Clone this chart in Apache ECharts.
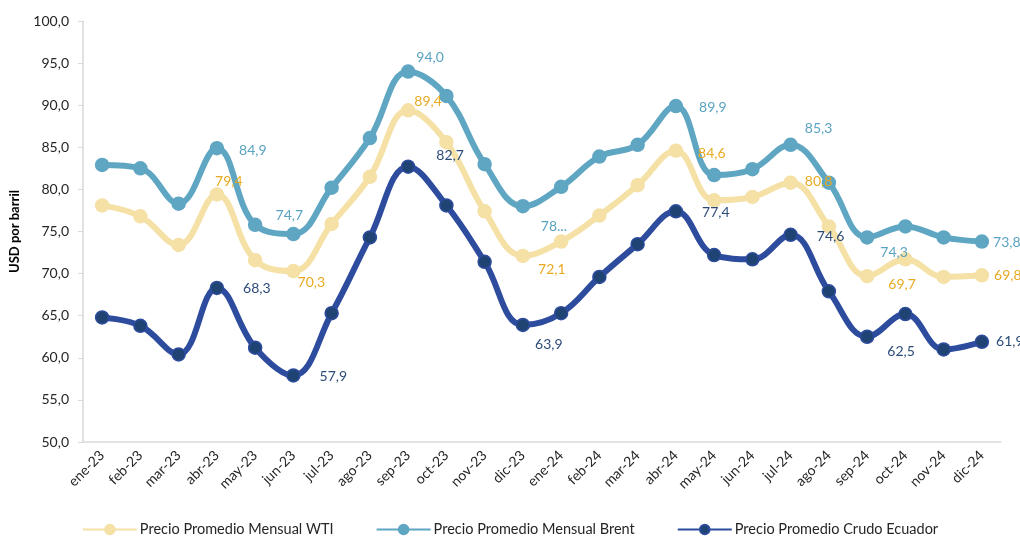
<!DOCTYPE html>
<html>
<head>
<meta charset="utf-8">
<script src="https://cdn.jsdelivr.net/npm/echarts@6/dist/echarts.min.js"></script>
<style>html,body{margin:0;padding:0;background:#fff;}#c{width:1020px;height:543px;}</style>
</head>
<body>
<div id="c"></div>
<script>
const categories = ['ene-23','feb-23','mar-23','abr-23','may-23','jun-23','jul-23','ago-23','sep-23','oct-23','nov-23','dic-23',
  'ene-24','feb-24','mar-24','abr-24','may-24','jun-24','jul-24','ago-24','sep-24','oct-24','nov-24','dic-24'];
const wti = [78.1, 76.8, 73.4, 79.4, 71.6, 70.3, 75.9, 81.5, 89.4, 85.6, 77.4, 72.1, 73.8, 76.9, 80.5, 84.6, 78.7, 79.1, 80.8, 75.6, 69.7, 71.7, 69.6, 69.8];
const brent = [82.9, 82.5, 78.3, 84.9, 75.8, 74.7, 80.2, 86.1, 94.0, 91.1, 83.0, 78.0, 80.3, 83.9, 85.3, 89.9, 81.7, 82.4, 85.3, 80.8, 74.3, 75.6, 74.3, 73.8];
const ecuador = [64.8, 63.8, 60.4, 68.3, 61.2, 57.9, 65.3, 74.3, 82.7, 78.1, 71.4, 63.9, 65.3, 69.6, 73.5, 77.4, 72.2, 71.7, 74.6, 67.9, 62.5, 65.2, 61.0, 61.9];
const seriesNames = ['Precio Promedio Mensual WTI', 'Precio Promedio Mensual Brent', 'Precio Promedio Crudo Ecuador'];
const yAxisName = 'USD por barril';

// label placements: index -> [dx, dy] (and optional custom text)
const wtiLabels = {3:[12,-13],5:[18,11],8:[20,-9],11:[29,14],15:[36,3],18:[28,-1],20:[35,8],23:[26,0]};
const brentLabels = {3:[36,2],5:[-4,-19],8:[22,-14],11:[31,20,'78...'],15:[37,1],18:[28,-16],20:[27,15],23:[25,1]};
const ecuLabels = {3:[40,1],5:[40,1],8:[42,-11],11:[26,20],15:[40,1],18:[40,2],20:[34,15],23:[28,0]};

const FONT = 'Lato, "Open Sans", sans-serif';
const fmt = v => v.toFixed(1).replace('.', ',');

function buildData(values, labels, color) {
  return values.map((v, i) => {
    const l = labels[i];
    if (!l) return v;
    return {
      value: v,
      label: {
        show: true, position: 'inside', offset: [l[0], l[1]],
        color: color, fontSize: 14, fontFamily: FONT,
        formatter: l[2] ? l[2] : fmt(v)
      }
    };
  });
}

const chart = echarts.init(document.getElementById('c'));
const mk = (name, values, labels, lineColor, markerColor, labelColor) => ({
  name: name, type: 'line', smooth: 0.4,
  data: buildData(values, labels, labelColor),
  symbol: 'circle', symbolSize: 13,
  lineStyle: { color: lineColor, width: 6 },
  itemStyle: { color: markerColor, borderColor: lineColor, borderWidth: 1.5 },
  label: { show: false },
  emphasis: { disabled: true }
});

chart.setOption({
  animation: false,
  grid: { left: 83, right: 19, top: 21, bottom: 101 },
  legend: {
    bottom: 1, left: 'center', itemWidth: 54, itemHeight: 12, itemGap: 42,
    textStyle: { fontSize: 14.5, fontFamily: FONT, color: '#262626', padding: [0, 0, 0, -2] },
    data: seriesNames
  },
  xAxis: {
    type: 'category', data: categories, boundaryGap: true,
    axisLine: { lineStyle: { color: '#d9d9d9', width: 1.5 } },
    axisTick: { show: false },
    axisLabel: { rotate: 45, fontSize: 14, fontFamily: FONT, color: '#262626', interval: 0, margin: 11 }
  },
  yAxis: {
    type: 'value', min: 50, max: 100, interval: 5,
    name: yAxisName, nameLocation: 'middle', nameGap: 62, nameRotate: 90,
    nameTextStyle: { fontSize: 13, fontWeight: 'bold', fontFamily: FONT, color: '#000' },
    axisLine: { show: true, lineStyle: { color: '#d9d9d9', width: 1.5 } },
    axisTick: { show: true, length: 5, lineStyle: { color: '#d9d9d9' } },
    splitLine: { show: false },
    axisLabel: { fontSize: 14, fontFamily: FONT, color: '#262626', formatter: v => fmt(v), margin: 14 }
  },
  series: [
    mk(seriesNames[0], wti, wtiLabels, '#F5E0A6', '#F5E0A6', '#E9AA22'),
    mk(seriesNames[1], brent, brentLabels, '#5FA6C3', '#5FA6C3', '#5BA3C1'),
    mk(seriesNames[2], ecuador, ecuLabels, '#2E4C9E', '#1F4474', '#2C4C78')
  ]
});
</script>
</body>
</html>
